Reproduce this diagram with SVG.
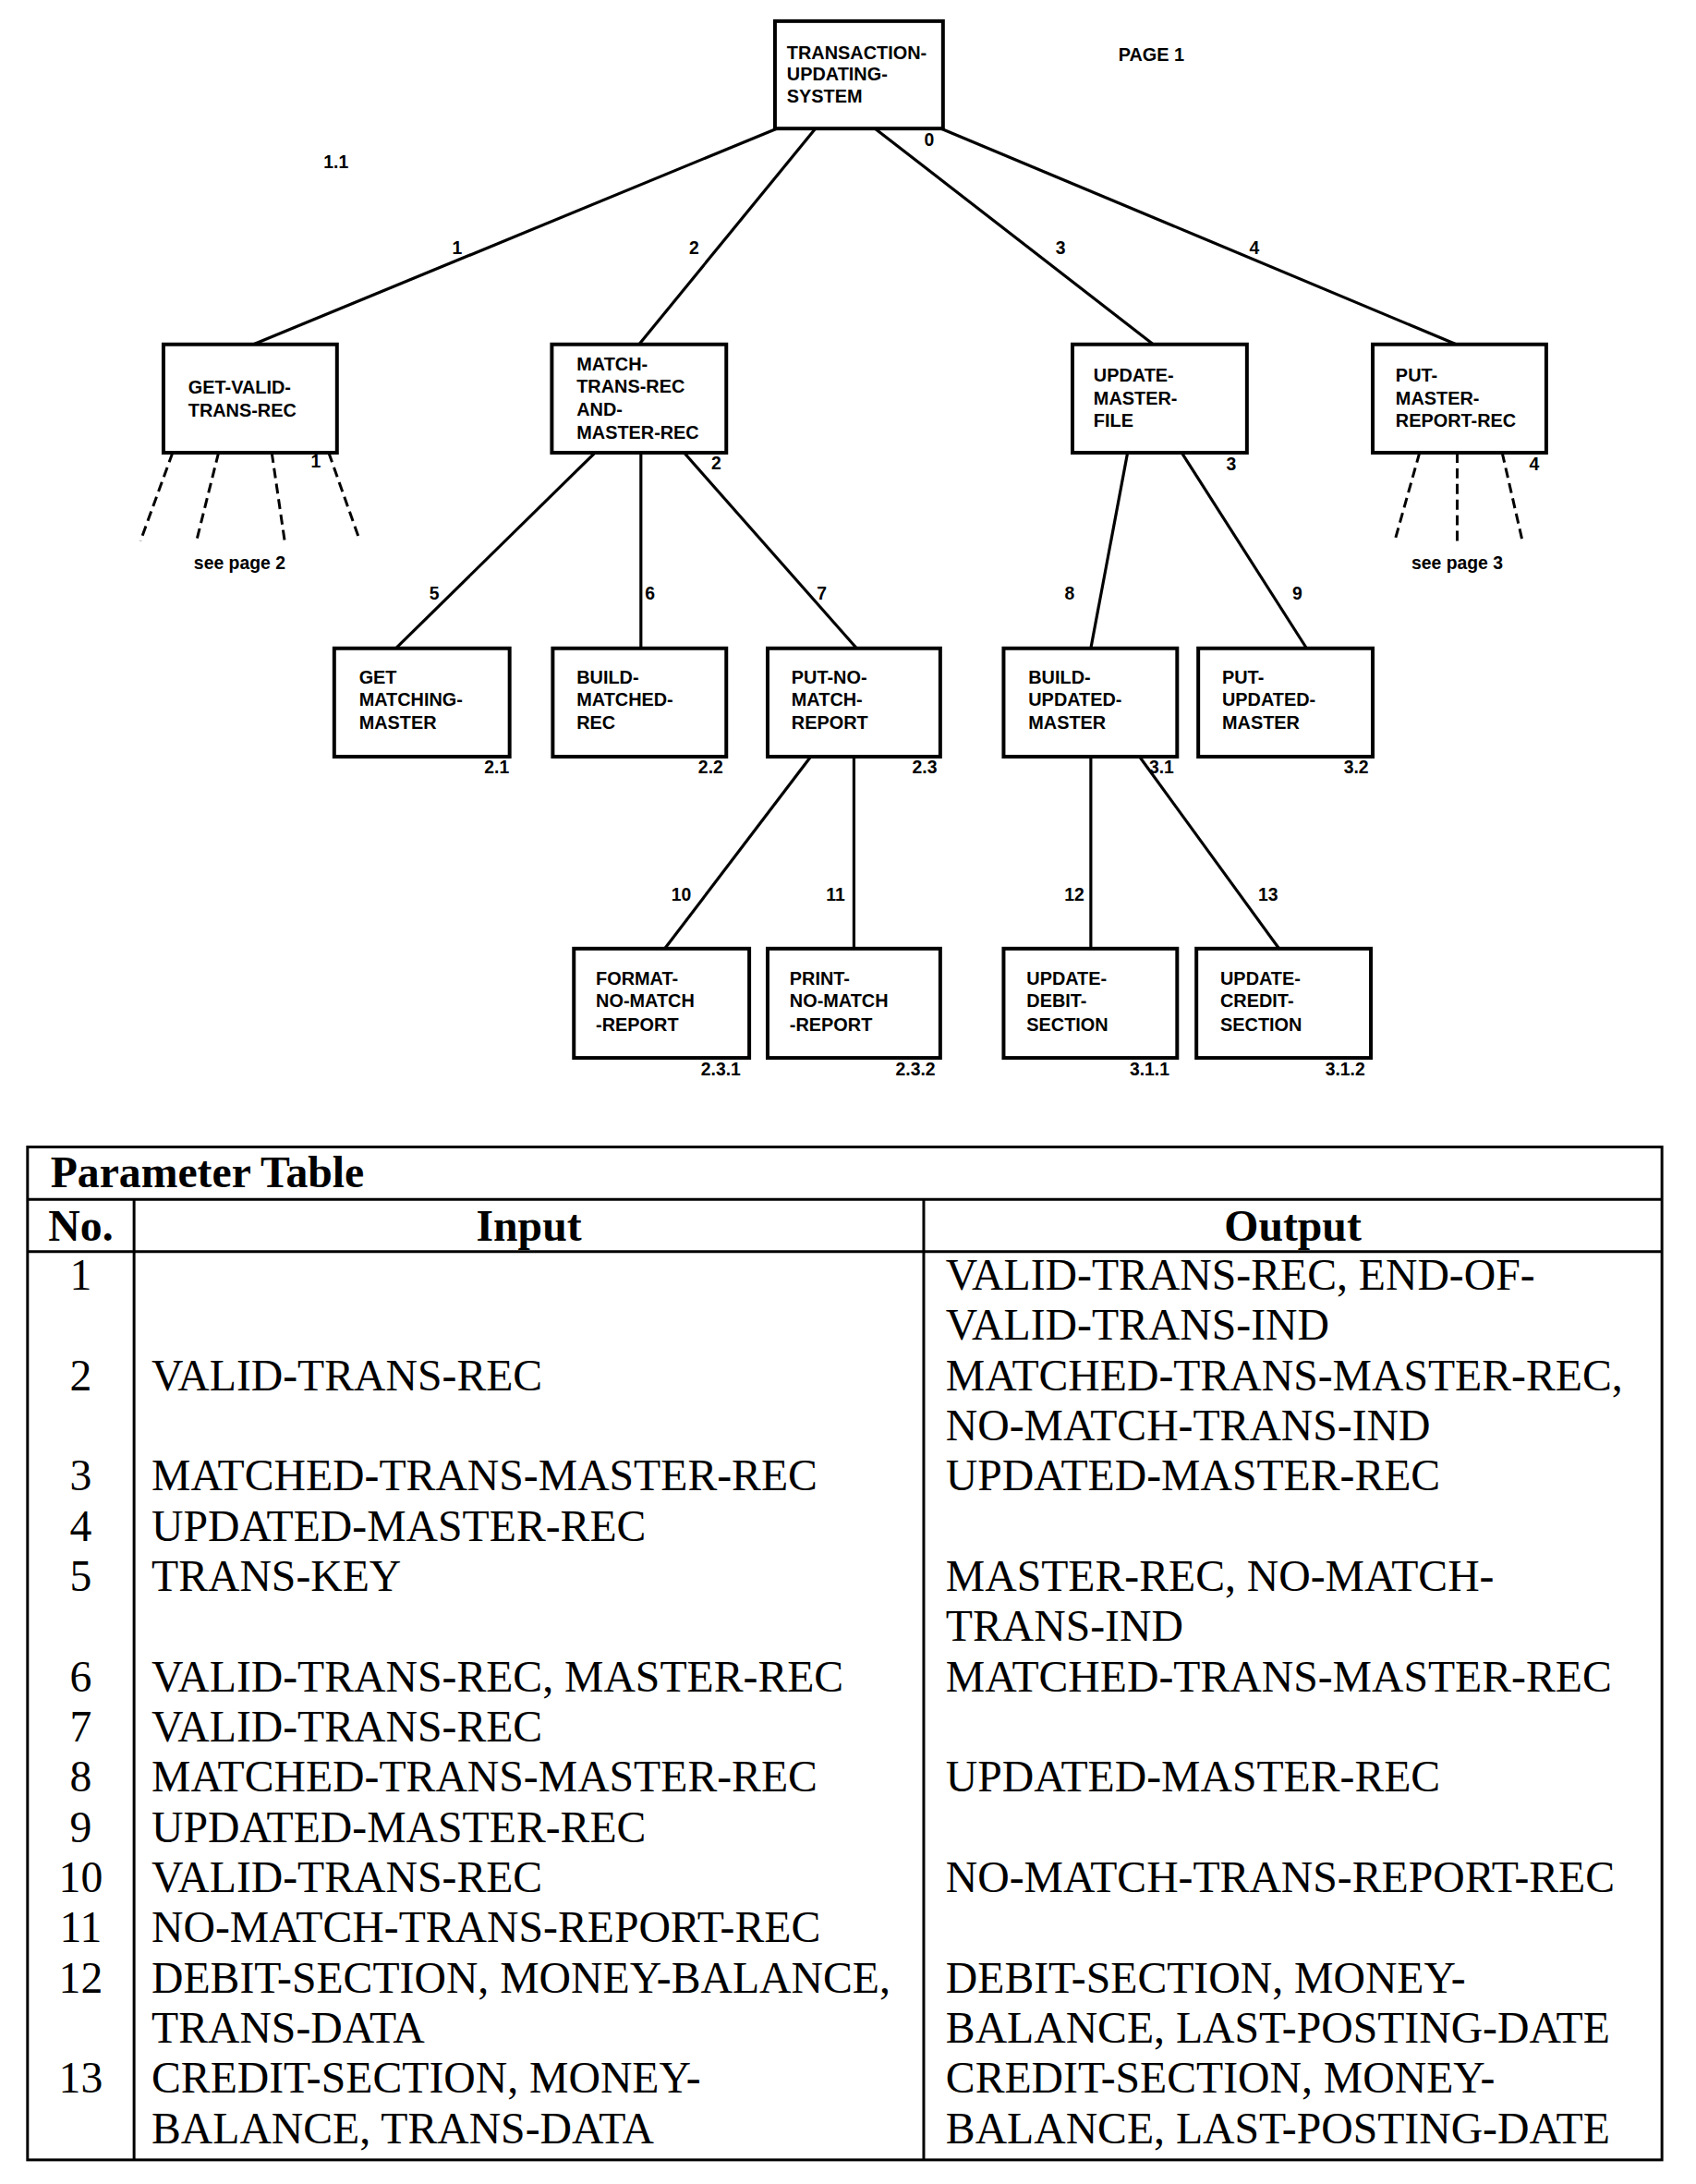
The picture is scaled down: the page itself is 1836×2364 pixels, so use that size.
<svg xmlns="http://www.w3.org/2000/svg" width="1836" height="2364" viewBox="0 0 1836 2364">
<style>
.bg{fill:#fff}
.box{fill:#fff;stroke:#000;stroke-width:4}
.ln{stroke:#000;stroke-width:3.2;fill:none}
.dl{stroke:#000;stroke-width:3;fill:none;stroke-dasharray:11 6}
.bt{font-family:"Liberation Sans",Arial,sans-serif;font-weight:bold;font-size:20px;fill:#000}
.nm{font-family:"Liberation Sans",Arial,sans-serif;font-weight:bold;font-size:19.5px;fill:#000;text-anchor:middle}
.tb{stroke:#000;stroke-width:3;fill:none}
.tt{font-family:"Liberation Serif","Times New Roman",serif;font-size:48px;fill:#000}
.th{font-family:"Liberation Serif","Times New Roman",serif;font-size:48px;font-weight:bold;fill:#000}
.c{text-anchor:middle}
</style>
<rect class="bg" x="0" y="0" width="1836" height="2364"/>
<g transform="scale(0.994)">
<g id="connectors">
<line class="ln" x1="846" y1="140" x2="276" y2="375"/>
<line class="ln" x1="888" y1="140" x2="696" y2="375"/>
<line class="ln" x1="953" y1="140" x2="1256" y2="375"/>
<line class="ln" x1="1025" y1="140" x2="1586" y2="375"/>
<line class="ln" x1="648" y1="493" x2="431" y2="706"/>
<line class="ln" x1="698" y1="493" x2="698" y2="706"/>
<line class="ln" x1="745" y1="493" x2="933" y2="706"/>
<line class="ln" x1="1228" y1="493" x2="1188" y2="706"/>
<line class="ln" x1="1287" y1="493" x2="1423" y2="706"/>
<line class="ln" x1="883" y1="824" x2="724" y2="1033"/>
<line class="ln" x1="930" y1="824" x2="930" y2="1033"/>
<line class="ln" x1="1188" y1="824" x2="1188" y2="1033"/>
<line class="ln" x1="1241" y1="824" x2="1393" y2="1033"/>
<line class="dl" x1="188" y1="493" x2="153" y2="589"/>
<line class="dl" x1="238" y1="493" x2="214" y2="589"/>
<line class="dl" x1="296" y1="493" x2="310" y2="589"/>
<line class="dl" x1="358" y1="493" x2="392" y2="589"/>
<line class="dl" x1="1546" y1="493" x2="1519" y2="589"/>
<line class="dl" x1="1587" y1="493" x2="1587" y2="589"/>
<line class="dl" x1="1636" y1="493" x2="1658" y2="589"/>
<text class="nm" x="498" y="277">1</text>
<text class="nm" x="756" y="277">2</text>
<text class="nm" x="1155" y="277">3</text>
<text class="nm" x="1366" y="277">4</text>
<text class="nm" x="473" y="653">5</text>
<text class="nm" x="708" y="653">6</text>
<text class="nm" x="895" y="653">7</text>
<text class="nm" x="1165" y="653">8</text>
<text class="nm" x="1413" y="653">9</text>
<text class="nm" x="742" y="981">10</text>
<text class="nm" x="910" y="981">11</text>
<text class="nm" x="1170" y="981">12</text>
<text class="nm" x="1381" y="981">13</text>
<text class="nm" x="261" y="620">see page 2</text>
<text class="nm" x="1587" y="620">see page 3</text>
</g>

<text class="bt" x="1218" y="66">PAGE 1</text>
<text class="nm" x="366" y="183">1.1</text>

<g id="n0">
<rect class="box" x="844" y="23" width="183" height="117"/>
<text class="bt" x="857" y="64">TRANSACTION-</text>
<text class="bt" x="857" y="88">UPDATING-</text>
<text class="bt" x="857" y="112">SYSTEM</text>
<text class="nm" x="1012" y="159">0</text>
</g>

<g id="n1">
<rect class="box" x="178" y="375" width="189" height="118"/>
<text class="bt" x="205" y="429">GET-VALID-</text>
<text class="bt" x="205" y="454">TRANS-REC</text>
<text class="nm" x="344" y="509">1</text>
</g>

<g id="n2">
<rect class="box" x="601" y="375" width="190" height="118"/>
<text class="bt" x="628" y="403">MATCH-</text>
<text class="bt" x="628" y="428">TRANS-REC</text>
<text class="bt" x="628" y="453">AND-</text>
<text class="bt" x="628" y="478">MASTER-REC</text>
<text class="nm" x="780" y="511">2</text>
</g>

<g id="n3">
<rect class="box" x="1168" y="375" width="190" height="118"/>
<text class="bt" x="1191" y="416">UPDATE-</text>
<text class="bt" x="1191" y="441">MASTER-</text>
<text class="bt" x="1191" y="465">FILE</text>
<text class="nm" x="1341" y="512">3</text>
</g>

<g id="n4">
<rect class="box" x="1495" y="375" width="189" height="118"/>
<text class="bt" x="1520" y="416">PUT-</text>
<text class="bt" x="1520" y="441">MASTER-</text>
<text class="bt" x="1520" y="465">REPORT-REC</text>
<text class="nm" x="1671" y="512">4</text>
</g>

<g id="n21">
<rect class="box" x="364" y="706" width="191" height="118"/>
<text class="bt" x="391" y="744">GET</text>
<text class="bt" x="391" y="769">MATCHING-</text>
<text class="bt" x="391" y="794">MASTER</text>
<text class="nm" x="541" y="842">2.1</text>
</g>

<g id="n22">
<rect class="box" x="602" y="706" width="189" height="118"/>
<text class="bt" x="628" y="744">BUILD-</text>
<text class="bt" x="628" y="769">MATCHED-</text>
<text class="bt" x="628" y="794">REC</text>
<text class="nm" x="774" y="842">2.2</text>
</g>

<g id="n23">
<rect class="box" x="836" y="706" width="188" height="118"/>
<text class="bt" x="862" y="744">PUT-NO-</text>
<text class="bt" x="862" y="769">MATCH-</text>
<text class="bt" x="862" y="794">REPORT</text>
<text class="nm" x="1007" y="842">2.3</text>
</g>

<g id="n31">
<rect class="box" x="1093" y="706" width="189" height="118"/>
<text class="bt" x="1120" y="744">BUILD-</text>
<text class="bt" x="1120" y="769">UPDATED-</text>
<text class="bt" x="1120" y="794">MASTER</text>
<text class="nm" x="1265" y="842">3.1</text>
</g>

<g id="n32">
<rect class="box" x="1305" y="706" width="190" height="118"/>
<text class="bt" x="1331" y="744">PUT-</text>
<text class="bt" x="1331" y="769">UPDATED-</text>
<text class="bt" x="1331" y="794">MASTER</text>
<text class="nm" x="1477" y="842">3.2</text>
</g>

<g id="n231">
<rect class="box" x="625" y="1033" width="191" height="119"/>
<text class="bt" x="649" y="1072">FORMAT-</text>
<text class="bt" x="649" y="1097">NO-MATCH</text>
<text class="bt" x="649" y="1123">-REPORT</text>
<text class="nm" x="785" y="1171">2.3.1</text>
</g>

<g id="n232">
<rect class="box" x="836" y="1033" width="188" height="119"/>
<text class="bt" x="860" y="1072">PRINT-</text>
<text class="bt" x="860" y="1097">NO-MATCH</text>
<text class="bt" x="860" y="1123">-REPORT</text>
<text class="nm" x="997" y="1171">2.3.2</text>
</g>

<g id="n311">
<rect class="box" x="1093" y="1033" width="189" height="119"/>
<text class="bt" x="1118" y="1072">UPDATE-</text>
<text class="bt" x="1118" y="1097">DEBIT-</text>
<text class="bt" x="1118" y="1123">SECTION</text>
<text class="nm" x="1252" y="1171">3.1.1</text>
</g>

<g id="n312">
<rect class="box" x="1303" y="1033" width="190" height="119"/>
<text class="bt" x="1329" y="1072">UPDATE-</text>
<text class="bt" x="1329" y="1097">CREDIT-</text>
<text class="bt" x="1329" y="1123">SECTION</text>
<text class="nm" x="1465" y="1171">3.1.2</text>
</g>

<g id="table">
<rect class="tb" x="30" y="1249" width="1780" height="1103"/>
<line class="tb" x1="30" y1="1306" x2="1810" y2="1306"/>
<line class="tb" x1="30" y1="1363" x2="1810" y2="1363"/>
<line class="tb" x1="146" y1="1306" x2="146" y2="2352"/>
<line class="tb" x1="1006" y1="1306" x2="1006" y2="2352"/>
<text class="th" x="55" y="1293">Parameter Table</text>
<text class="th c" x="88" y="1351">No.</text>
<text class="th c" x="576" y="1351">Input</text>
<text class="th c" x="1408" y="1351">Output</text>

<text class="tt c" x="88" y="1404">1</text>
<text class="tt" x="1030" y="1404">VALID-TRANS-REC, END-OF-</text>
<text class="tt" x="1030" y="1459">VALID-TRANS-IND</text>
<text class="tt c" x="88" y="1514">2</text>
<text class="tt" x="165" y="1514">VALID-TRANS-REC</text>
<text class="tt" x="1030" y="1514">MATCHED-TRANS-MASTER-REC,</text>
<text class="tt" x="1030" y="1568">NO-MATCH-TRANS-IND</text>
<text class="tt c" x="88" y="1623">3</text>
<text class="tt" x="165" y="1623">MATCHED-TRANS-MASTER-REC</text>
<text class="tt" x="1030" y="1623">UPDATED-MASTER-REC</text>
<text class="tt c" x="88" y="1678">4</text>
<text class="tt" x="165" y="1678">UPDATED-MASTER-REC</text>
<text class="tt c" x="88" y="1732">5</text>
<text class="tt" x="165" y="1732">TRANS-KEY</text>
<text class="tt" x="1030" y="1732">MASTER-REC, NO-MATCH-</text>
<text class="tt" x="1030" y="1787">TRANS-IND</text>
<text class="tt c" x="88" y="1842">6</text>
<text class="tt" x="165" y="1842">VALID-TRANS-REC, MASTER-REC</text>
<text class="tt" x="1030" y="1842">MATCHED-TRANS-MASTER-REC</text>
<text class="tt c" x="88" y="1896">7</text>
<text class="tt" x="165" y="1896">VALID-TRANS-REC</text>
<text class="tt c" x="88" y="1951">8</text>
<text class="tt" x="165" y="1951">MATCHED-TRANS-MASTER-REC</text>
<text class="tt" x="1030" y="1951">UPDATED-MASTER-REC</text>
<text class="tt c" x="88" y="2006">9</text>
<text class="tt" x="165" y="2006">UPDATED-MASTER-REC</text>
<text class="tt c" x="88" y="2060">10</text>
<text class="tt" x="165" y="2060">VALID-TRANS-REC</text>
<text class="tt" x="1030" y="2060">NO-MATCH-TRANS-REPORT-REC</text>
<text class="tt c" x="88" y="2115">11</text>
<text class="tt" x="165" y="2115">NO-MATCH-TRANS-REPORT-REC</text>
<text class="tt c" x="88" y="2170">12</text>
<text class="tt" x="165" y="2170">DEBIT-SECTION, MONEY-BALANCE,</text>
<text class="tt" x="1030" y="2170">DEBIT-SECTION, MONEY-</text>
<text class="tt" x="165" y="2224">TRANS-DATA</text>
<text class="tt" x="1030" y="2224">BALANCE, LAST-POSTING-DATE</text>
<text class="tt c" x="88" y="2279">13</text>
<text class="tt" x="165" y="2279">CREDIT-SECTION, MONEY-</text>
<text class="tt" x="1030" y="2279">CREDIT-SECTION, MONEY-</text>
<text class="tt" x="165" y="2334">BALANCE, TRANS-DATA</text>
<text class="tt" x="1030" y="2334">BALANCE, LAST-POSTING-DATE</text>
</g>
</g>
</svg>
